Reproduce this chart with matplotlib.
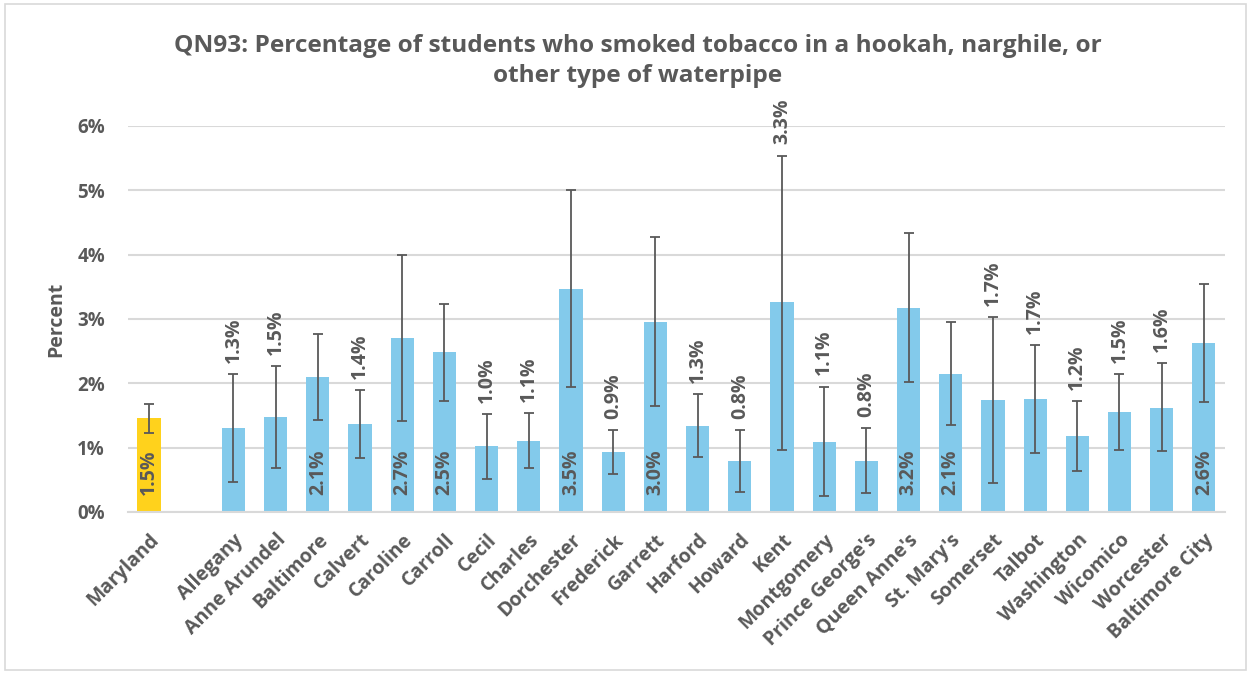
import matplotlib.pyplot as plt
from matplotlib.patches import Rectangle

# data (percent)
counties = ["Maryland", "", "Allegany", "Anne Arundel", "Baltimore", "Calvert", "Caroline",
            "Carroll", "Cecil", "Charles", "Dorchester", "Frederick", "Garrett", "Harford",
            "Howard", "Kent", "Montgomery", "Prince George's", "Queen Anne's", "St. Mary's",
            "Somerset", "Talbot", "Washington", "Wicomico", "Worcester", "Baltimore City"]
values = [1.46, None, 1.30, 1.48, 2.10, 1.37, 2.70, 2.48, 1.02, 1.11, 3.46, 0.93, 2.96, 1.34,
          0.79, 3.26, 1.09, 0.79, 3.17, 2.15, 1.74, 1.75, 1.18, 1.55, 1.62, 2.62]
ci_low = [1.23, None, 0.46, 0.68, 1.43, 0.84, 1.42, 1.73, 0.52, 0.69, 1.94, 0.59, 1.65, 0.86,
          0.31, 0.97, 0.25, 0.29, 2.02, 1.35, 0.45, 0.91, 0.64, 0.96, 0.94, 1.71]
ci_high = [1.68, None, 2.15, 2.27, 2.77, 1.90, 3.99, 3.23, 1.52, 1.54, 5.01, 1.27, 4.28, 1.83,
           1.28, 5.54, 1.95, 1.31, 4.34, 2.96, 3.03, 2.60, 1.72, 2.14, 2.31, 3.55]
labels = ["1.5%", "", "1.3%", "1.5%", "2.1%", "1.4%", "2.7%", "2.5%", "1.0%", "1.1%", "3.5%",
          "0.9%", "3.0%", "1.3%", "0.8%", "3.3%", "1.1%", "0.8%", "3.2%", "2.1%", "1.7%",
          "1.7%", "1.2%", "1.5%", "1.6%", "2.6%"]
# True = label sits inside the bar at its base, False = above the error bar
label_inside = [True, False, False, False, True, False, True, True, False, False, True, False,
                True, False, False, False, False, False, True, True, False, False, False,
                False, False, True]

TEXT = "#595959"
BLUE = "#83CAEB"
GOLD = "#FFD21C"
GRID = "#D9D9D9"

plt.rcParams["font.family"] = ["Open Sans", "DejaVu Sans"]
plt.rcParams["font.weight"] = "bold"

fig = plt.figure(figsize=(12.51, 6.74), dpi=100)
fig.patch.set_facecolor("white")
fig.patches.append(Rectangle((0.004, 0.006), 0.992, 0.988, transform=fig.transFigure,
                             fill=False, edgecolor=GRID, linewidth=1.2))

ax = fig.add_axes([0.1023, 0.2404, 0.8769, 0.5727])

for i, v in enumerate(values):
    if v is None:
        continue
    color = GOLD if i == 0 else BLUE
    ax.bar(i, v, width=0.55, color=color, zorder=2)
    ax.errorbar(i, v, yerr=[[v - ci_low[i]], [ci_high[i] - v]], fmt="none",
                ecolor=TEXT, elinewidth=1.3, capsize=3.6, capthick=1.3, zorder=3)
    if label_inside[i]:
        ax.annotate(labels[i], (i, 0), xytext=(0, 12), textcoords="offset points",
                    rotation=90, ha="center", va="bottom", fontsize=14,
                    fontweight="bold", color=TEXT, zorder=4)
    else:
        ax.annotate(labels[i], (i, ci_high[i]), xytext=(0, 8), textcoords="offset points",
                    rotation=90, ha="center", va="bottom", fontsize=14,
                    fontweight="bold", color=TEXT, zorder=4)

ax.set_xlim(-0.5, len(counties) - 0.5)
ax.set_ylim(0, 6)
ax.set_yticks(range(0, 7))
ax.set_yticklabels([f"{t}%" for t in range(0, 7)], fontsize=13.5, fontweight="bold", color=TEXT)
ax.set_xticks(range(len(counties)))
ax.set_xticklabels(counties, rotation=45, ha="right", rotation_mode="anchor",
                   fontsize=14, fontweight="bold", color=TEXT)
ax.tick_params(axis="x", length=0, pad=13)
ax.tick_params(axis="y", length=0, pad=16.5)

ax.grid(axis="y", color=GRID, linewidth=1.5, zorder=0)
ax.set_axisbelow(True)
for side in ["top", "right", "left"]:
    ax.spines[side].set_visible(False)
ax.spines["bottom"].set_color(GRID)
ax.spines["bottom"].set_linewidth(1.5)

ax.set_ylabel("Percent", fontsize=14, fontweight="bold", color=TEXT, labelpad=8)

fig.text(0.5096, 0.9095, "QN93: Percentage of students who smoked tobacco in a hookah, narghile, or\n"
         "other type of waterpipe", ha="center", va="center", fontsize=17.6,
         fontweight="bold", color=TEXT, linespacing=1.3)

plt.savefig("out.png", dpi=100, facecolor="white")
plt.close()
